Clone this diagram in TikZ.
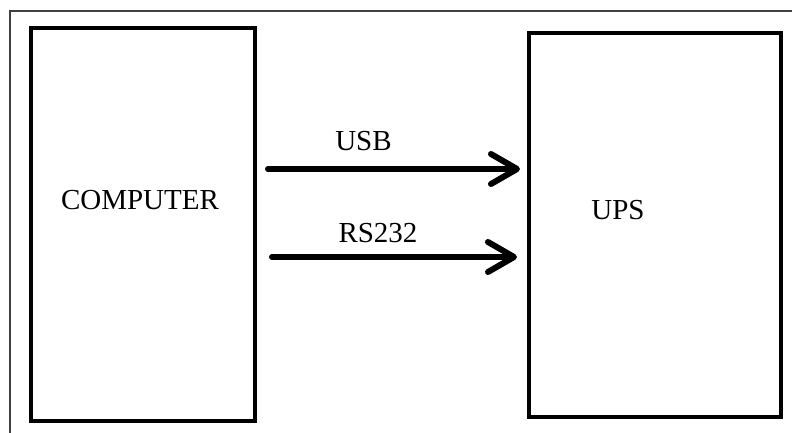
\documentclass[tikz,border=0pt]{standalone}
\usepackage{fontspec}
\setmainfont{Liberation Serif}
\usetikzlibrary{arrows.meta}

\tikzset{
  block/.style={draw, line width=4pt, minimum width=#1, inner sep=0pt},
  link/.style={line width=6pt, line cap=round,
    -{Straight Barb[length=26pt, width=30pt, line width=6pt, round]}},
  tag/.style={anchor=base, font=\fontsize{29}{34}\selectfont},
  frame/.style={line width=1.2pt, black!75}
}

\begin{document}
\begin{tikzpicture}[x=1pt, y=-1pt]
    \useasboundingbox (0,0) rectangle (792,433);
    % page frame
    \draw[frame] (10,433) -- (10,11) -- (792,11);
    % the two units
    \node[block=224pt, minimum height=393pt] (computer) at (143,224.5) {};
    \node[block=252pt, minimum height=384pt] (ups) at (655,225) {};
    \node[tag] (computerlbl) at (140,209) {COMPUTER};
    \node[tag] (upslbl) at (618,219) {UPS};
    % links between them
    \coordinate (usbA) at (268,169); \coordinate (usbB) at (520,169);
    \coordinate (rsA) at (272,257); \coordinate (rsB) at (517,257);
    \draw[link] (usbA) -- (usbB);
    \draw[link] (rsA) -- (rsB);
    \node[tag] (usblbl) at (363.5,150) {USB};
    \node[tag] (rslbl) at (378,242) {RS232};
\end{tikzpicture}
\end{document}
